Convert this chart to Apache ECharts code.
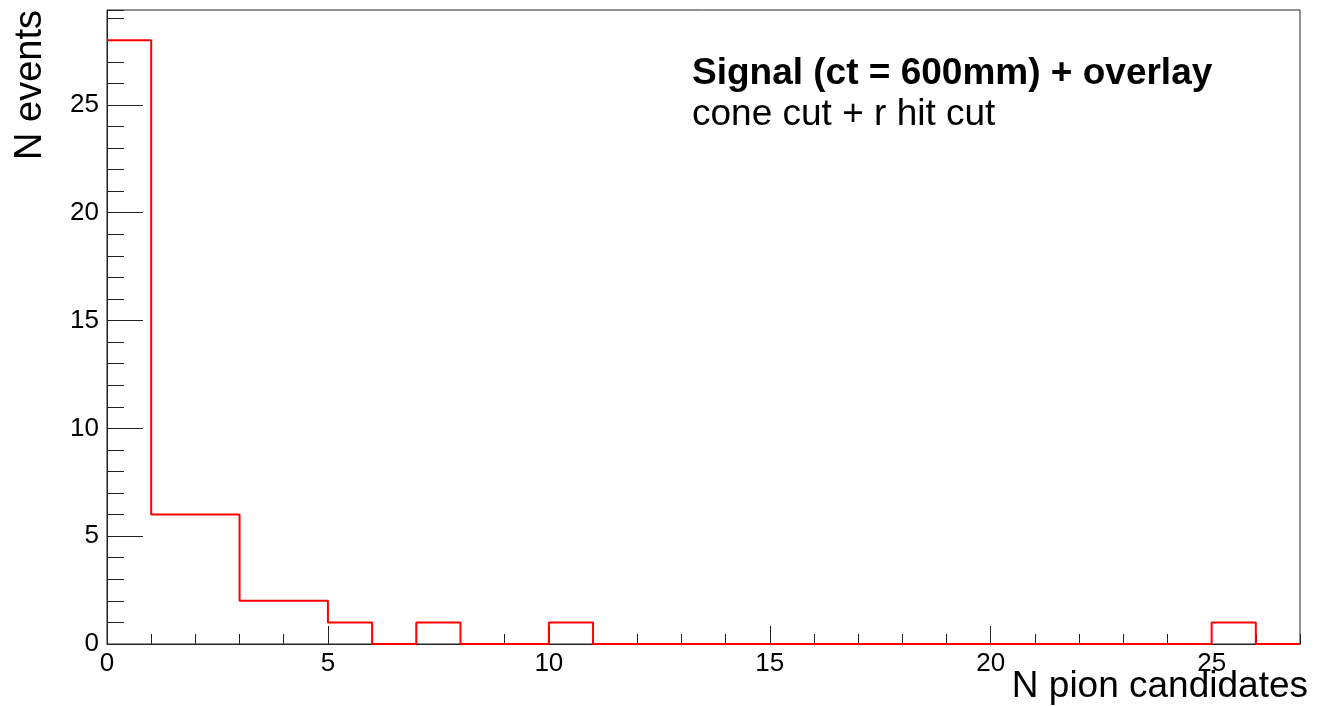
<!DOCTYPE html>
<html><head><meta charset="utf-8">
<script src="https://cdn.jsdelivr.net/npm/echarts@6/dist/echarts.min.js"></script>
<style>html,body{margin:0;padding:0;background:#fff}#c{width:1317px;height:707px}</style>
</head><body><div id="c"></div>
<script>
// ---- data ----
const binLowEdges = [0,1,2,3,4,5,6,7,8,9,10,11,12,13,14,15,16,17,18,19,20,21,22,23,24,25,26];
const counts      = [28,6,6,2,2,1,0,1,0,0,1,0,0,0,0,0,0,0,0,0,0,0,0,0,0,1,0];
const binWidth = 1;
const xRange = [0, 27];
const yRange = [0, 29.4];
const xMajorTicks = [0, 5, 10, 15, 20, 25];
const yMajorTicks = [0, 5, 10, 15, 20, 25];
const titleLines = ['Signal (ct = 600mm) + overlay', 'cone cut + r hit cut'];
const xTitle = 'N pion candidates';
const yTitle = 'N events';

// ---- chart ----
const FONT = '"Liberation Sans", Arial, Helvetica, sans-serif';
const stepData = binLowEdges.map((x, i) => [x, counts[i]]);
stepData.push([binLowEdges[binLowEdges.length - 1] + binWidth, counts[counts.length - 1]]);

const chart = echarts.init(document.getElementById('c'), null, {renderer: 'canvas'});
const labelStyle = {fontSize: 26, color: '#000', fontFamily: FONT};
chart.setOption({
  animation: false,
  backgroundColor: '#fff',
  grid: {left: 107, right: 17, top: 10, bottom: 63, show: true, borderColor: '#222', borderWidth: 1,
         containLabel: false, outerBoundsMode: 'none'},
  xAxis: [
    {type: 'value', position: 'bottom', min: xRange[0], max: xRange[1], interval: 5,
     axisLine: {show: true, onZero: false, lineStyle: {color: '#222', width: 1}},
     axisTick: {show: true, inside: true, length: 18, customValues: xMajorTicks, lineStyle: {color: '#222'}},
     axisLabel: Object.assign({margin: 7, customValues: xMajorTicks}, labelStyle),
     splitLine: {show: false}},
    {type: 'value', position: 'bottom', min: xRange[0], max: xRange[1], interval: 1,
     axisLine: {show: false},
     axisTick: {show: true, inside: true, length: 10, lineStyle: {color: '#222'}},
     axisLabel: {show: false}, splitLine: {show: false}}
  ],
  yAxis: [
    {type: 'value', position: 'left', min: yRange[0], max: yRange[1], interval: 5,
     axisLine: {show: true, onZero: false, lineStyle: {color: '#222', width: 1}},
     axisTick: {show: true, inside: true, length: 36, customValues: yMajorTicks, lineStyle: {color: '#222'}},
     axisLabel: Object.assign({margin: 8, customValues: yMajorTicks}, labelStyle),
     splitLine: {show: false}},
    {type: 'value', position: 'left', min: yRange[0], max: yRange[1], interval: 1,
     axisLine: {show: false},
     axisTick: {show: true, inside: true, length: 17, lineStyle: {color: '#222'}},
     axisLabel: {show: false}, splitLine: {show: false}}
  ],
  series: [{
    type: 'line', step: 'end', data: stepData, xAxisIndex: 0, yAxisIndex: 0,
    symbol: 'none', clip: false, z: 5,
    lineStyle: {color: '#ff0000', width: 2}
  }],
  graphic: [
    {type: 'text', x: 692, y: 73.5, z: 10,
     style: {text: titleLines[0], fontSize: 37, fontWeight: 'bold', fontFamily: FONT, fill: '#000', align: 'left', verticalAlign: 'middle'}},
    {type: 'text', x: 692, y: 115, z: 10,
     style: {text: titleLines[1], fontSize: 37, fontFamily: FONT, fill: '#000', align: 'left', verticalAlign: 'middle'}},
    {type: 'text', x: 1308, y: 687, z: 10,
     style: {text: xTitle, fontSize: 37, fontFamily: FONT, fill: '#000', align: 'right', verticalAlign: 'middle'}},
    {type: 'text', x: 31, y: 10, rotation: Math.PI / 2, z: 10,
     style: {text: yTitle, fontSize: 38, fontFamily: FONT, fill: '#000', align: 'right', verticalAlign: 'middle'}}
  ]
});
</script>
</body></html>
